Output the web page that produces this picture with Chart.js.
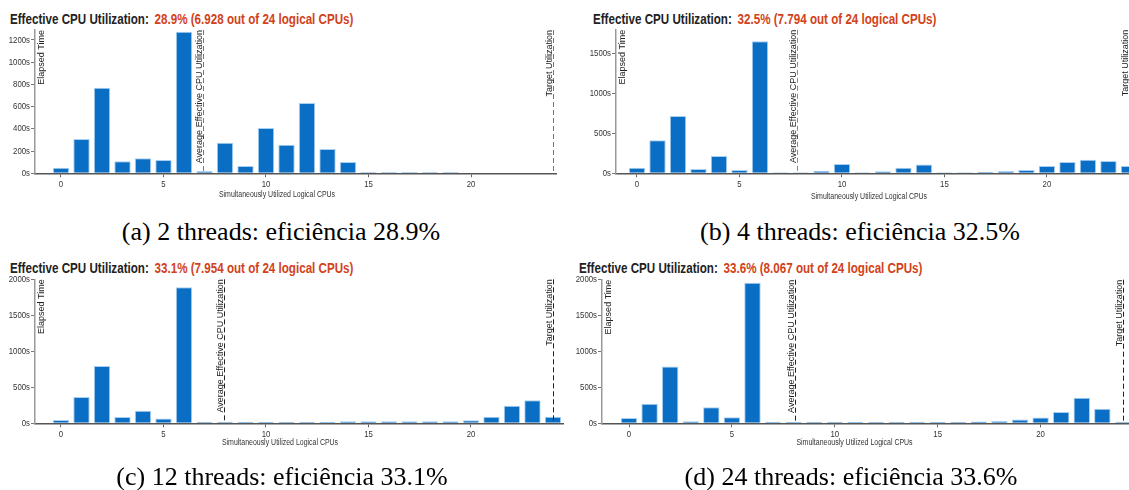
<!DOCTYPE html>
<html><head><meta charset="utf-8">
<script src="https://cdn.jsdelivr.net/npm/chart.js@4.4.1/dist/chart.umd.min.js"></script>
<style>
html,body{margin:0;padding:0;background:#fff}
body{width:1129px;height:490px;overflow:hidden;position:relative}
.t{position:absolute;font-family:"Liberation Sans",Arial,sans-serif;font-weight:bold;font-size:14px;line-height:16px;white-space:nowrap;color:#222;transform:scaleX(0.83);transform-origin:0 0}
.t span{color:#d2421a;margin-left:3px}
.cap{position:absolute;font-family:"Liberation Serif","Times New Roman",serif;font-size:26px;line-height:30px;white-space:nowrap;transform:translateX(-50%);color:#000}
canvas{position:absolute}
</style></head>
<body>
<div class="t" style="left:10px;top:11px">Effective CPU Utilization: <span>28.9% (6.928 out of 24 logical CPUs)</span></div>
<div class="t" style="left:593px;top:11px">Effective CPU Utilization: <span>32.5% (7.794 out of 24 logical CPUs)</span></div>
<div class="t" style="left:10px;top:260px">Effective CPU Utilization: <span>33.1% (7.954 out of 24 logical CPUs)</span></div>
<div class="t" style="left:579px;top:260px">Effective CPU Utilization: <span>33.6% (8.067 out of 24 logical CPUs)</span></div>

<canvas id="ca" width="565" height="215" style="left:0;top:0;width:565px;height:215px"></canvas>
<canvas id="cb" width="575" height="215" style="left:570px;top:0;width:575px;height:215px"></canvas>
<canvas id="cc" width="570" height="215" style="left:0;top:250px;width:570px;height:215px"></canvas>
<canvas id="cd" width="575" height="215" style="left:570px;top:250px;width:575px;height:215px"></canvas>

<div class="cap" style="left:281px;top:217px">(a) 2 threads: eficiência 28.9%</div>
<div class="cap" style="left:860px;top:217px">(b) 4 threads: eficiência 32.5%</div>
<div class="cap" style="left:282px;top:462px">(c) 12 threads: eficiência 33.1%</div>
<div class="cap" style="left:851px;top:462px">(d) 24 threads: eficiência 33.6%</div>

<script>
// ---- data ----
const cpus = [0,1,2,3,4,5,6,7,8,9,10,11,12,13,14,15,16,17,18,19,20,21,22,23,24];
const xTicks = [0,5,10,15,20];
const threads2  = [51,309,771,108,135,120,1275,20,276,66,408,258,633,219,102,12,12,12,12,12,0,0,0,0,0];
const threads4  = [71,414,719,54,217,42,1655,14,14,33,117,14,25,71,111,14,14,20,29,42,92,142,169,155,92];
const threads12 = [46,366,796,88,176,65,1889,20,20,20,20,20,20,20,30,30,30,30,30,30,42,92,243,320,92];
const threads24 = [74,273,792,28,222,83,1958,20,20,20,20,20,20,20,20,20,20,26,32,52,80,158,357,204,20];
const yTicksA = [0,200,400,600,800,1000,1200];
const yTicksB = [0,500,1000,1500];
const yTicksCD = [0,500,1000,1500,2000];
const avgA = 6.928, avgB = 7.794, avgC = 7.954, avgD = 8.067;
const targetCPUs = 24;

const REG = '"Liberation Sans",Arial,sans-serif';
const SQ = 0.82; // horizontal squeeze to mimic a narrow face

function rotText(ctx, text, x, y){
  ctx.save();
  ctx.translate(x, y);
  ctx.rotate(-Math.PI/2);
  ctx.textAlign = 'right';
  ctx.textBaseline = 'alphabetic';
  ctx.fillText(text, 0, 0);
  ctx.restore();
}
function narrowText(ctx, text, x, y){
  ctx.save();
  ctx.translate(x, y);
  ctx.scale(SQ, 1);
  ctx.fillText(text, 0, 0);
  ctx.restore();
}

const annot = {
  id: 'annot',
  afterDatasetsDraw(chart, args, o){
    const {ctx, chartArea: ca, scales: {x, y}} = chart;
    ctx.save();
    ctx.font = '9px ' + REG;
    ctx.fillStyle = '#222';
    [[o.avg, 'Average Effective CPU Utilization'], [o.target, 'Target Utilization']].forEach(([v, t]) => {
      const px = Math.round(x.getPixelForValue(v)) + 0.5;
      ctx.strokeStyle = o.dash; ctx.lineWidth = 1; ctx.setLineDash([5,3]);
      ctx.beginPath(); ctx.moveTo(px, ca.top); ctx.lineTo(px, ca.bottom); ctx.stroke();
      rotText(ctx, t, px - 2, ca.top);
    });
    rotText(ctx, 'Elapsed Time', ca.left + 8.5, ca.top);
    ctx.setLineDash([]);
    ctx.font = '9.5px ' + REG;
    ctx.fillStyle = '#333';
    ctx.textAlign = 'center'; ctx.textBaseline = 'top';
    x.ticks.forEach(t => narrowText(ctx, String(t.value), x.getPixelForValue(t.value), ca.bottom + 6));
    ctx.textAlign = 'right'; ctx.textBaseline = 'middle';
    y.ticks.forEach(t => narrowText(ctx, t.value + 's', ca.left - 5, y.getPixelForValue(t.value)));
    ctx.font = '8.5px ' + REG;
    ctx.textAlign = 'center'; ctx.textBaseline = 'middle';
    narrowText(ctx, 'Simultaneously Utilized Logical CPUs', o.titleX, o.titleY);
    ctx.restore();
  }
};

function make(id, vals, p){
  const data = cpus.map((c, i) => ({x: c, y: vals[i]}));
  new Chart(document.getElementById(id), {
    type: 'bar',
    data: { datasets: [{
      data,
      backgroundColor: '#0b6ec5',
      borderColor: '#a9d0f0',
      borderWidth: {top: 1, left: 1, right: 1, bottom: 0},
      barPercentage: 0.8,
      categoryPercentage: 1.0,
      clip: 0
    }]},
    options: {
      responsive: false,
      animation: false,
      layout: { padding: p.pad },
      plugins: {
        legend: {display: false},
        tooltip: {enabled: false},
        annot: { avg: p.avg, target: targetCPUs, dash: p.dash, titleX: p.titleX, titleY: p.titleY }
      },
      scales: {
        x: {
          type: 'linear', min: p.xmin, max: p.xmax, offset: false,
          afterBuildTicks: s => { s.ticks = xTicks.map(v => ({value: v})); },
          afterFit: s => { s.height = 30; },
          grid: {display: true, offset: false, drawOnChartArea: false, drawTicks: true, tickLength: 4, color: '#666', lineWidth: 1},
          border: {display: true, color: '#555', width: 1.5},
          ticks: {display: false}
        },
        y: {
          min: 0, max: p.ymax,
          afterBuildTicks: s => { s.ticks = p.yTicks.map(v => ({value: v})); },
          afterFit: s => { s.width = p.yw; },
          grid: {display: true, drawOnChartArea: false, drawTicks: true, tickLength: 4, color: '#777', lineWidth: 1},
          border: {display: true, color: '#999', width: 1.5},
          ticks: {display: false}
        }
      }
    },
    plugins: [annot]
  });
}

make('ca', threads2, {
  pad: {left: 0, right: 9, top: 30, bottom: 215 - 173.3 - 30},
  yw: 35, xmin: -1.268, xmax: 24.146, ymax: 1290, yTicks: yTicksA,
  avg: avgA, dash: '#777', titleX: 277, titleY: 195
});
make('cb', threads4, {
  pad: {left: 0, right: 5, top: 29.8, bottom: 215 - 173.3 - 30},
  yw: 46, xmin: -1.024, xmax: 24.54, ymax: 1800, yTicks: yTicksB,
  avg: avgB, dash: '#888', titleX: 299, titleY: 197
});
make('cc', threads12, {
  pad: {left: 0, right: 7, top: 29.3, bottom: 215 - 173.3 - 30},
  yw: 35, xmin: -1.268, xmax: 24.49, ymax: 2000, yTicks: yTicksCD,
  avg: avgC, dash: '#222', titleX: 280, titleY: 193
});
make('cd', threads24, {
  pad: {left: 0, right: 5, top: 29.7, bottom: 215 - 173.3 - 30},
  yw: 32, xmin: -1.312, xmax: 24.83, ymax: 2000, yTicks: yTicksCD,
  avg: avgD, dash: '#222', titleX: 284.5, titleY: 193
});
</script>
</body></html>
